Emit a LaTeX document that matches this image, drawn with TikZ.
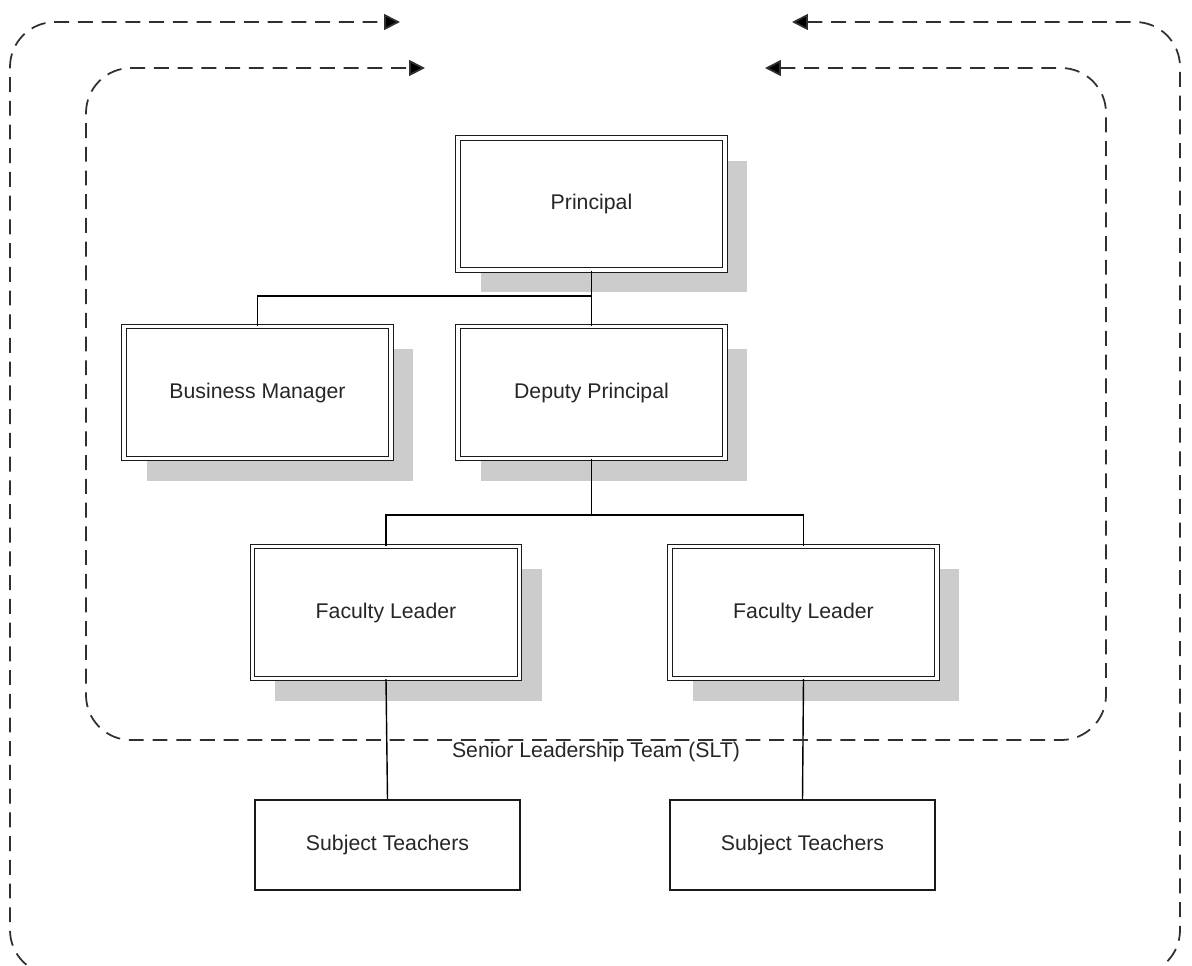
\documentclass[tikz,border=0pt]{standalone}
\usepackage{fontspec}
\setmainfont{Liberation Sans}
\usetikzlibrary{arrows.meta,shadows}
\definecolor{boxline}{HTML}{1A1A1A}
\definecolor{shadowgray}{HTML}{CCCCCC}
\definecolor{dashgray}{HTML}{303030}
\definecolor{textgray}{HTML}{262626}

\begin{document}
\begin{tikzpicture}[
  x=0.02cm, y=-0.02cm,
  font=\fontsize{12.1}{14}\selectfont, text=textgray,
  role/.style={draw=boxline, double, double distance=1.8pt, line width=0.65pt,
    minimum width=5.34cm, minimum height=2.64cm, fill=white,
    drop shadow={shadow xshift=0.45cm, shadow yshift=-0.45cm, fill=shadowgray, opacity=1}},
  staff/.style={draw=boxline, line width=0.9pt, minimum width=5.3cm, minimum height=1.8cm, fill=white},
  link/.style={draw=black, line width=0.8pt},
  cycleflow/.style={<->, >={Triangle[length=9pt,width=9pt,fill=black]}, draw=dashgray, line width=1pt,
    dash pattern=on 8.5pt off 5pt, rounded corners=0.9cm}
]
  \useasboundingbox (0,0) rectangle (1192,965);

  % boxes
  \node[role] (principal) at (591.5,204) {Principal};
  \node[role] (busmgr) at (257.5,392.5) {Business Manager};
  \node[role] (deputy) at (591.5,392.5) {Deputy Principal};
  \node[role] (fl1) at (386,612.5) {Faculty Leader};
  \node[role] (fl2) at (803.5,612.5) {Faculty Leader};
  \node[staff] (st1) at (387.5,845) {Subject Teachers};
  \node[staff] (st2) at (802.5,845) {Subject Teachers};

  % connectors
  \coordinate (j1) at (591.5,296);
  \coordinate (j2) at (591.5,515);
  \draw[link] (principal.south) -- (deputy.north);
  \draw[link] (busmgr.north) |- (j1);
  \draw[link] (deputy.south) -- (j2);
  \draw[link] (fl1.north) |- (j2) -| (fl2.north);
  \draw[link] (fl1.south) -- (st1.north);
  \draw[link] (fl2.south) -- (st2.north);

  % feedback loops
  \coordinate (outL) at (400,22);
  \coordinate (outR) at (792,22);
  \coordinate (inL) at (425,68);
  \coordinate (inR) at (765,68);
  \draw[cycleflow] (outR) -- (1180,22) -- (1180,975) -- (10,975) -- (10,22) -- (outL);
  \draw[cycleflow] (inR) -- (1106,68) -- (1106,740) -- (86,740) -- (86,68) -- (inL);

  \node (slt) at (596,752) {Senior Leadership Team (SLT)};
\end{tikzpicture}
\end{document}
